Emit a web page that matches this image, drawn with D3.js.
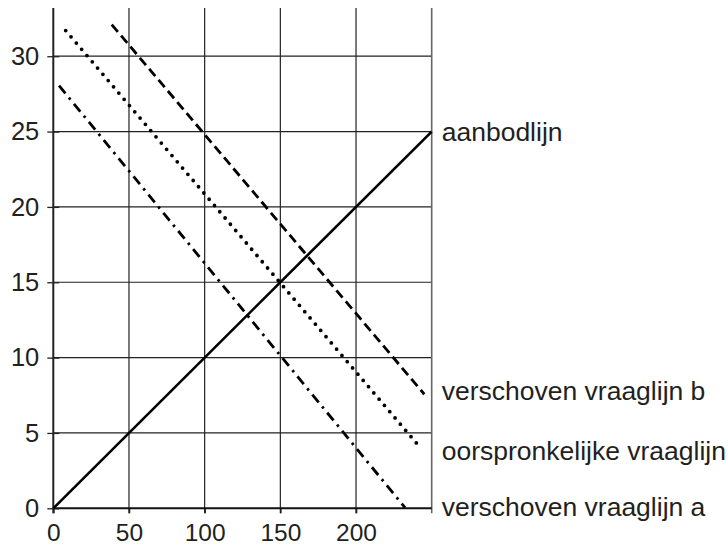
<!DOCTYPE html>
<html><head><meta charset="utf-8">
<script src="https://cdn.jsdelivr.net/npm/d3@7"></script>
<style>body{margin:0;background:#fff}text{font-family:"Liberation Sans",Arial,Helvetica,sans-serif;fill:#231f20}</style>
</head><body><svg id="c" width="728" height="547"></svg>
<script>
// Data
const xTicks = [0, 50, 100, 150, 200];
const xGrid = [50, 100, 150, 200];
const yTicks = [0, 5, 10, 15, 20, 25, 30];
const aanbodlijn = [[0, 0], [250, 25]];
const oorspronkelijk = [[8.2, 31.7], [242.3, 4.05]];
const verschovenB = [[38.6, 32.1], [245.1, 7.57]];
const verschovenA = [[3.8, 28.05], [232.4, 0.04]];
const labels = ["aanbodlijn", "verschoven vraaglijn b", "oorspronkelijke vraaglijn", "verschoven vraaglijn a"];
const labelY = [25, 7.8, 3.8, 0.1];

const svg = d3.select("#c");
const x = d3.scaleLinear().domain([0, 250]).range([53.3, 431.7]);
const y = d3.scaleLinear().domain([0, 33.2]).range([508.3, 8]);
const FF = '"Liberation Sans",Arial,sans-serif';

// grid
svg.append("g").selectAll("line").data(yTicks.filter(d => d > 0)).join("line")
  .attr("x1", x(0)).attr("x2", x(250)).attr("y1", d => y(d)).attr("y2", d => y(d))
  .attr("stroke", "#222").attr("stroke-width", 1.2);
svg.append("g").selectAll("line").data(xGrid).join("line")
  .attr("x1", d => x(d)).attr("x2", d => x(d)).attr("y1", y(33.2)).attr("y2", y(0) + 5)
  .attr("stroke", "#222").attr("stroke-width", 1.2);
// right border
svg.append("line").attr("x1", x(250)).attr("x2", x(250)).attr("y1", y(33.2)).attr("y2", y(0) + 5)
  .attr("stroke", "#666").attr("stroke-width", 1.6);

// axes
const yAxis = d3.axisLeft(y).tickValues(yTicks).tickSize(6);
const gy = svg.append("g").attr("transform", `translate(${x(0)},0)`).call(yAxis);
gy.select(".domain").remove();
gy.selectAll(".tick line").attr("x2", -6).attr("x1", 6).attr("stroke", "#222").attr("stroke-width", 1.3);
gy.selectAll(".tick text").attr("font-size", 25.5).attr("x", -14).attr("fill", "#231f20").style("font-family", FF);
svg.append("line").attr("x1", x(0)).attr("x2", x(0)).attr("y1", y(33.2)).attr("y2", y(0) + 5)
  .attr("stroke", "#222").attr("stroke-width", 2);

const xAxis = d3.axisBottom(x).tickValues(xTicks).tickSize(5).tickPadding(10);
const gx = svg.append("g").attr("transform", `translate(0,${y(0)})`).call(xAxis);
gx.select(".domain").remove();
gx.selectAll(".tick line").attr("stroke", "#222").attr("stroke-width", 1.6);
gx.selectAll(".tick text").attr("font-size", 24.5).attr("fill", "#231f20").style("font-family", FF);
svg.append("line").attr("x1", x(0)).attr("x2", x(250)).attr("y1", y(0)).attr("y2", y(0))
  .attr("stroke", "#111").attr("stroke-width", 2);

// lines
const line = d3.line().x(d => x(d[0])).y(d => y(d[1]));
svg.append("path").attr("d", line(aanbodlijn)).attr("fill", "none").attr("stroke", "#000").attr("stroke-width", 2.6);
svg.append("path").attr("d", line(oorspronkelijk)).attr("fill", "none").attr("stroke", "#000")
  .attr("stroke-width", 3.8).attr("stroke-linecap", "round").attr("stroke-dasharray", "0,8.2");
svg.append("path").attr("d", line(verschovenB)).attr("fill", "none").attr("stroke", "#000")
  .attr("stroke-width", 2.8).attr("stroke-dasharray", "9.5,5");
svg.append("path").attr("d", line(verschovenA)).attr("fill", "none").attr("stroke", "#000")
  .attr("stroke-width", 2.8).attr("stroke-dasharray", "10,5.5,2.5,5.5");

// labels
svg.append("g").selectAll("text").data(labels).join("text")
  .attr("x", x(250) + 10).attr("y", (d, i) => y(labelY[i]))
  .attr("dominant-baseline", "central").attr("font-size", 26.5).text(d => d);
</script></body></html>
